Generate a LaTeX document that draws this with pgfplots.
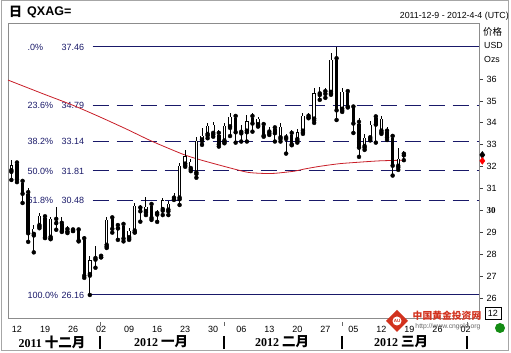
\documentclass[border=0pt]{standalone}
\usepackage{pgfplots}
\pgfplotsset{compat=1.18}
\usepackage{pgfplotstable}
\usepackage{fontspec}
\setmainfont{Liberation Sans}
\newfontfamily\tnr{Liberation Serif}
\newfontfamily\cjk{Noto Sans CJK SC}
\definecolor{fib}{RGB}{25,25,105}
\definecolor{ma}{RGB}{200,30,40}
\definecolor{framec}{RGB}{140,140,140}
\definecolor{wmred}{RGB}{210,50,30}
\definecolor{wmgreen}{RGB}{20,140,20}

\pgfplotstableread{
i o h l c
-1 31.80 32.30 31.40 32.10
0 32.15 32.27 31.30 31.45
1 31.31 31.40 30.35 30.80
2 30.80 31.04 28.58 29.00
3 28.90 29.35 28.10 29.20
4 29.30 29.90 29.20 29.80
5 29.70 29.75 28.75 28.80
6 28.76 29.72 28.70 29.67
7 29.58 30.17 29.13 29.46
8 29.40 29.70 29.03 29.10
9 29.12 29.30 28.98 29.08
10 29.10 29.12 29.08 29.10
11 29.10 29.15 28.60 28.66
12 28.70 28.85 26.94 27.07
13 27.07 27.95 26.16 27.76
14 27.80 28.40 27.40 27.90
15 27.90 27.92 27.88 27.90
16 28.40 29.70 28.30 29.60
17 29.65 29.72 29.00 29.20
18 29.30 29.45 28.67 29.22
19 29.35 29.50 28.60 28.76
20 28.75 29.20 28.67 29.10
21 29.05 30.35 29.00 30.25
22 30.10 30.26 29.50 30.00
23 29.94 30.64 29.80 30.20
24 30.26 30.35 29.58 29.70
25 29.85 30.03 29.49 29.95
26 30.03 30.58 29.80 30.50
27 30.00 30.46 29.80 30.35
28 30.55 30.80 30.49 30.60
29 30.55 32.17 30.26 32.08
30 32.10 32.77 32.00 32.50
31 31.90 32.35 31.80 32.25
32 31.70 33.36 31.50 33.20
33 33.20 33.77 33.00 33.45
34 33.45 33.98 33.30 33.90
35 33.50 34.06 33.37 33.95
36 33.50 33.68 32.92 33.05
37 33.15 33.98 33.07 33.90
38 33.80 34.44 33.40 34.30
39 34.27 34.36 33.10 33.60
40 33.55 33.90 33.15 33.62
41 33.60 34.36 33.15 34.10
42 34.27 34.44 33.60 34.00
43 33.90 34.29 33.83 34.20
44 33.90 34.06 33.37 33.45
45 33.56 33.83 33.45 33.70
46 33.75 33.83 33.15 33.56
47 33.30 33.98 33.15 33.85
48 33.30 33.50 32.60 33.40
49 33.50 33.68 32.98 33.05
50 33.22 33.70 33.10 33.60
51 33.60 34.45 33.50 34.36
52 34.28 34.44 34.21 34.32
53 34.15 35.60 34.00 35.37
54 35.30 35.64 35.05 35.40
55 35.40 35.60 35.14 35.35
56 35.37 37.20 35.28 36.90
57 36.90 37.46 34.13 34.60
58 34.60 35.60 34.50 35.45
59 35.40 35.45 34.70 34.77
60 34.70 34.80 33.54 34.00
61 34.00 34.20 32.45 32.90
62 32.90 33.50 32.77 33.36
63 33.30 34.10 33.20 33.95
64 34.25 34.36 33.10 33.95
65 33.60 34.30 33.50 34.20
66 33.60 33.83 33.22 33.36
67 33.36 33.45 31.60 32.08
68 32.00 32.86 31.86 32.40
69 32.55 32.70 32.30 32.60
}\candles

\begin{document}
\begin{tikzpicture}
\begin{axis}[
  at={(8bp,35bp)}, anchor=south west,
  width=471bp, height=295bp, scale only axis,
  xmin=-1.6, xmax=82.4, ymin=25.11, ymax=38.55,
  clip=false,
  axis line style={draw=framec, line width=0.8bp},
  xtick={0,5,...,80},
  xticklabels={12,19,26,02,09,16,23,30,06,13,20,27,05,12,19,26,02},
  x tick style={draw=none},
  xticklabel style={font=\fontsize{9bp}{10bp}\selectfont, yshift=-0.5bp},
  ytick={26,27,...,36},
  yticklabels={26,27,28,29,{\tnr\bfseries 30},31,32,33,34,35,36},
  ytick pos=right, yticklabel pos=right,
  tick align=outside, major tick length=4bp,
  y tick style={draw=black!75, line width=0.8bp},
  yticklabel style={font=\fontsize{9bp}{10bp}\selectfont},
  /pgf/number format/assume math mode=true,
]
% Fibonacci levels
\addplot[fib, line width=1bp] coordinates {(13.5,37.46) (82.4,37.46)};
\addplot[fib, line width=1bp, dash pattern=on 16bp off 8bp] coordinates {(13.5,34.79) (82.4,34.79)};
\addplot[fib, line width=1bp, dash pattern=on 16bp off 8bp] coordinates {(13.5,33.14) (82.4,33.14)};
\addplot[fib, line width=1bp, dash pattern=on 16bp off 8bp] coordinates {(13.5,31.81) (82.4,31.81)};
\addplot[fib, line width=1bp, dash pattern=on 16bp off 8bp] coordinates {(13.5,30.48) (82.4,30.48)};
\addplot[fib, line width=1bp] coordinates {(12.9,26.16) (82.4,26.16)};
\begin{scope}[every node/.style={fib, anchor=west, inner sep=0pt, font=\fontsize{9bp}{10bp}\selectfont}]
\node at (axis cs:1.87,37.46) {.0\%};
\node at (axis cs:7.94,37.46) {37.46};
\node at (axis cs:1.87,34.79) {23.6\%};
\node at (axis cs:7.94,34.79) {34.79};
\node at (axis cs:1.87,33.14) {38.2\%};
\node at (axis cs:7.94,33.14) {33.14};
\node at (axis cs:1.87,31.81) {50.0\%};
\node at (axis cs:7.94,31.81) {31.81};
\node at (axis cs:1.87,30.48) {61.8\%};
\node at (axis cs:7.94,30.48) {30.48};
\node at (axis cs:1.87,26.16) {100.0\%};
\node at (axis cs:7.94,26.16) {26.16};
\end{scope}
% moving average
\addplot[ma, line width=0.8bp, smooth, tension=0.4] coordinates {
(-1.6,35.95) (4.7,35.32) (9.9,34.81) (14.7,34.28) (19.5,33.72) (24.0,33.17)
(29.5,32.58) (32.5,32.33) (37.5,31.98) (41.1,31.75) (43.6,31.70) (45.9,31.70)
(49.5,31.80) (51.3,31.90) (54.0,32.02) (57.5,32.14) (61.1,32.21) (64.7,32.27) (69,32.30)};
% candle wicks
\addplot[only marks, mark=none, error bars/.cd, y dir=plus, y explicit, error mark=none,
  error bar style={draw=black, line width=0.9bp, solid}]
  table[x=i, y=l, y error plus expr={\thisrow{h}-\thisrow{l}}] {\candles};
% candle bodies
\addplot[only marks, mark=none, error bars/.cd, y dir=plus, y explicit, error mark=none,
  error bar style={draw=black, line width=3.4bp, solid}]
  table[x=i, y expr={min(\thisrow{o},\thisrow{c})-0.03}, y error plus expr={max(abs(\thisrow{c}-\thisrow{o}),0.06)}] {\candles};
% hollow interior of rising candles
\addplot[only marks, mark=none, error bars/.cd, y dir=plus, y explicit, error mark=none,
  error bar style={draw=white, line width=1.5bp, solid}]
  table[x=i, y expr={\thisrow{o}+0.045}, y error plus expr={max(\thisrow{c}-\thisrow{o}-0.09,0)}] {\candles};
% last value markers
\addplot[only marks, mark=diamond*, mark size=3.5pt, black] coordinates {(83.0,32.54)};
\addplot[only marks, mark=diamond*, mark size=3.5pt, red] coordinates {(83.0,32.27)};
\end{axis}

\begin{scope}[shift={(0,353bp)}, x=1bp, y=-1bp]
\draw[black!35, line width=1bp] (1.5,0.5) rectangle (508.5,350.5);
\node[anchor=west, inner sep=0pt] at (9,11.5) {\fontsize{13bp}{14bp}\cjk\bfseries 日};
\node[anchor=west, inner sep=0pt] at (27,12) {\fontsize{12.5bp}{14bp}\selectfont\bfseries QXAG=};
\node[anchor=east, inner sep=0pt] at (509,16) {\fontsize{8.8bp}{10bp}\selectfont 2011-12-9 - 2012-4-4 (UTC)};
\node[anchor=west, inner sep=0pt] at (483,32) {\fontsize{9.5bp}{10bp}\cjk 价格};
\node[anchor=west, inner sep=0pt] at (484,45) {\fontsize{8.8bp}{10bp}\selectfont USD};
\node[anchor=west, inner sep=0pt] at (484,59) {\fontsize{8.8bp}{10bp}\selectfont Ozs};
% months
\foreach \xx/\yr/\mo in {52/2011/十二月, 161/2012/一月, 282/2012/二月, 401/2012/三月}{
  \node[inner sep=0pt] at (\xx,342) {{\fontsize{12bp}{13bp}\tnr\bfseries \yr}\hspace{3bp}{\fontsize{13.5bp}{14bp}\cjk\bfseries \mo}};
}
\foreach \xx in {100,224,342,467}{
  \draw[black, line width=1.2bp] (\xx,336) -- (\xx,349);
  \draw[black!60, line width=0.8bp] (\xx,322) -- (\xx,326);
}
% watermark
\fill[wmred] (397,310) -- (408,321) -- (397,332) -- (386,321) -- cycle;
\fill[white] (397,321) circle (4.5);
\node[inner sep=0pt, text=wmred] at (397,321) {\fontsize{4.5bp}{5bp}\selectfont\bfseries AU};
\node[inner sep=0pt, text=wmred] at (447,315.5) {\fontsize{9.8bp}{11bp}\cjk\bfseries 中国黄金投资网};
\node[inner sep=0pt, text=black!60] at (448,327) {\fontsize{6.8bp}{8bp}\selectfont http://www.cngold.org};
\fill[wmgreen] (500,328) circle (5);
\fill[white] (485,307) rectangle (501,319);
\draw[black, line width=0.8bp] (485,307) rectangle (501,319);
\node[inner sep=0pt] at (493,313) {\fontsize{9bp}{10bp}\selectfont 12};
\end{scope}
\pgfresetboundingbox
\useasboundingbox (0,0) rectangle (511bp,353bp);
\end{tikzpicture}
\end{document}
